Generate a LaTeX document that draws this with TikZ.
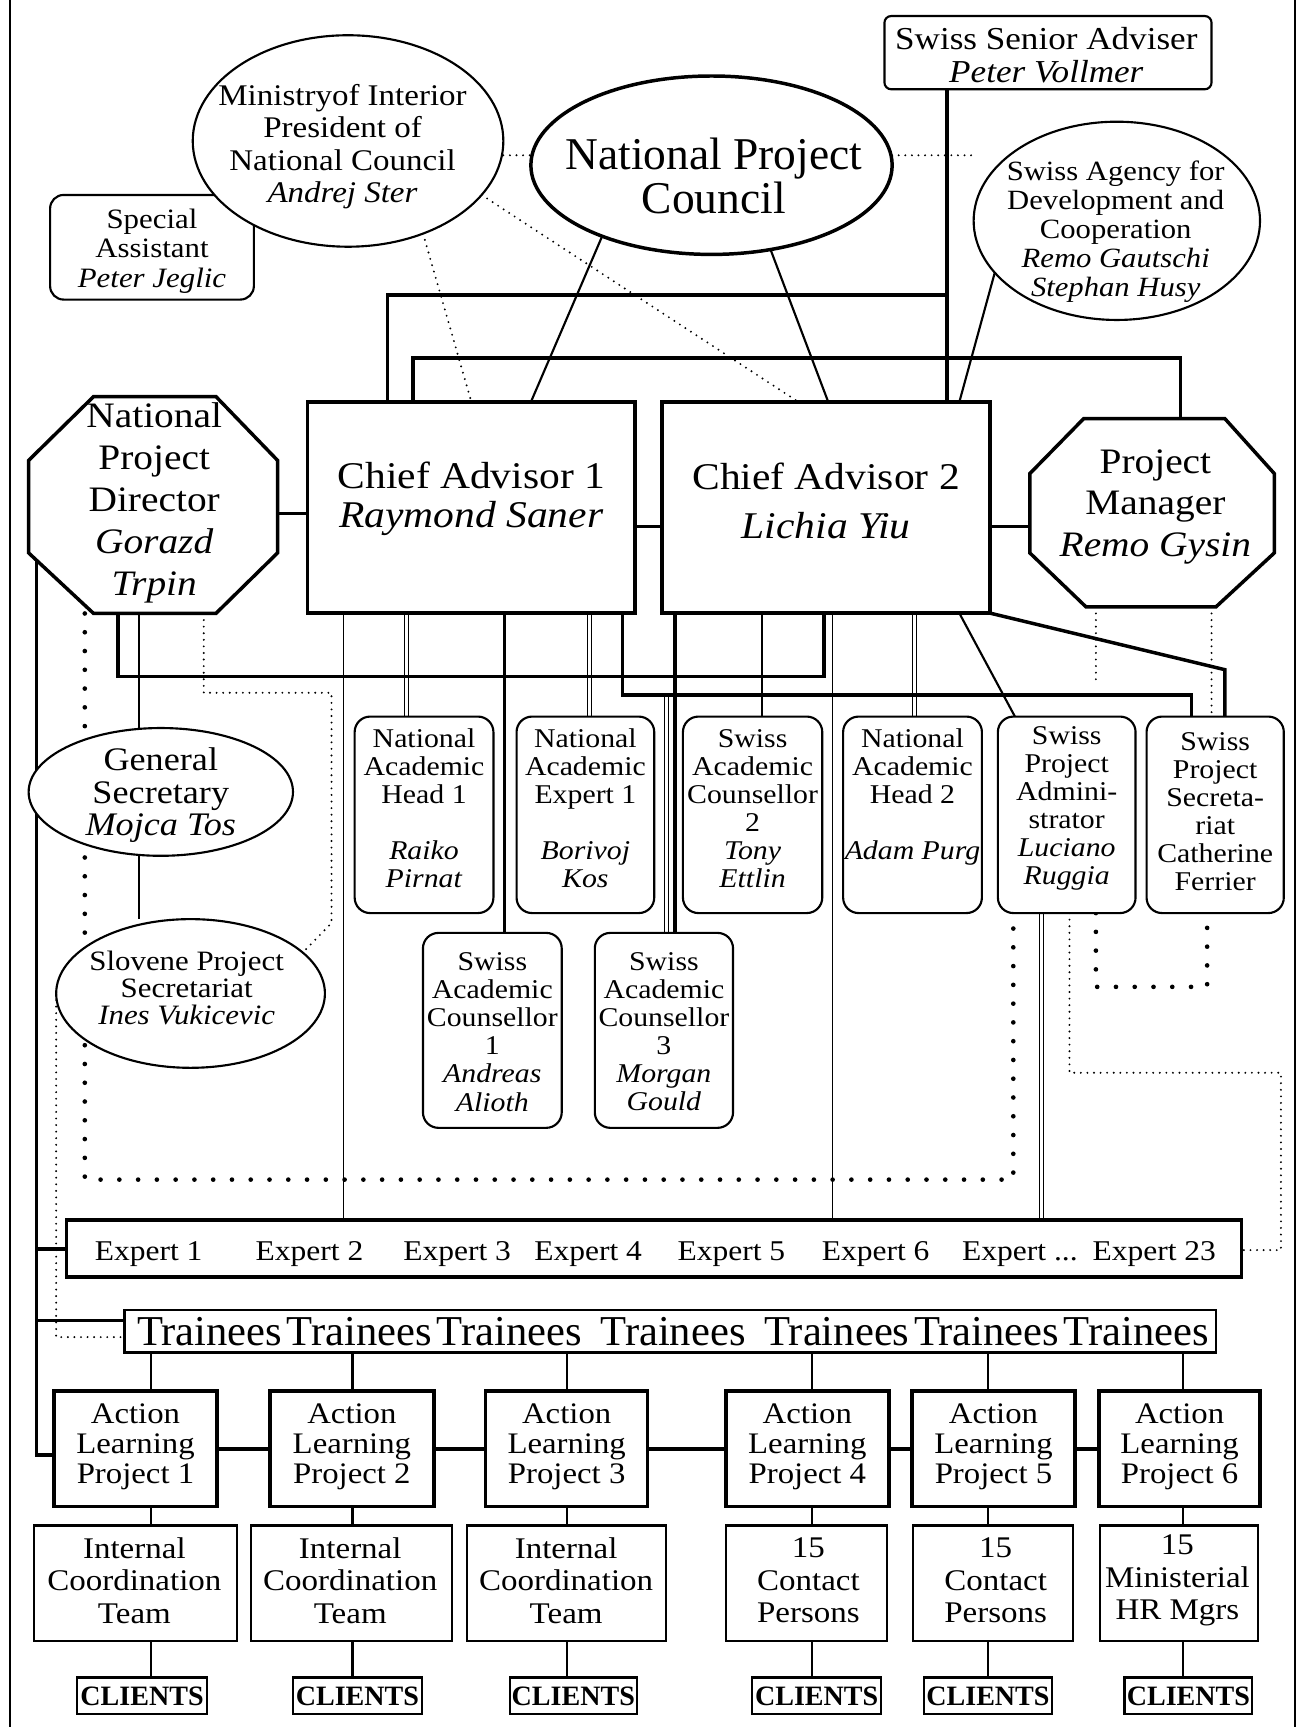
\documentclass[tikz,border=0pt]{standalone}
\usepackage{fontspec}
\setmainfont{Liberation Serif}[FakeStretch=1.1]
\newfontfamily\nfont{Liberation Serif}
\usetikzlibrary{shapes.geometric}
\pgfdeclarelayer{bg}
\pgfsetlayers{bg,main}
\tikzset{
 wh/.style 2 args={minimum width=#1*0.02cm, minimum height=#2*0.02cm, inner sep=0pt, outer sep=0pt},
 thk/.style={line width=1.8pt},
 med/.style={line width=1.1pt},
 thn/.style={line width=0.8pt},
 sbox/.style={draw, med, fill=white, rounded corners=8pt},
 ell/.style={draw, ellipse, med, fill=white},
 txt/.style={inner sep=0pt, align=center},
 small/.style={txt, font=\fontsize{14}{14.5}\selectfont},
 alpt/.style={txt, font=\fontsize{15.4}{15.6}\selectfont},
 teamt/.style={txt, font=\fontsize{15.5}{16.7}\selectfont},
 expt/.style={txt, font=\fontsize{14.8}{16}\selectfont},
 clt/.style={txt, font=\nfont\bfseries\fontsize{14.5}{16}\selectfont},
 bigdot/.style={line width=2.4pt, dash pattern=on 0pt off 9.7pt, line cap=round},
 thindot/.style={line width=1.1pt, dash pattern=on 0pt off 3.4pt, line cap=round},
 dbl/.style={double, double distance=1.5pt, line width=0.6pt},
}
\begin{document}
\begin{tikzpicture}[x=0.02cm,y=-0.02cm]
\useasboundingbox (0,0) rectangle (1183,1568);

% top
\node[draw, med, fill=white, rounded corners=3.5pt, wh={297}{66.5}] (ssa) at (951.5,47.8) {};
\node[txt, font=\fontsize{16.5}{17.2}\selectfont] (ssat) at (950,50) {Swiss Senior Adviser\\\textit{Peter Vollmer}};

\node[sbox, rounded corners=7pt, wh={185}{95}] (sa) at (138,224.5) {};
\node[txt, font=\fontsize{14.5}{15.2}\selectfont] (sat) at (138,228) {Special\\Assistant\\\textit{Peter Jeglic}};

\node[ell, wh={282}{192}] (min) at (316,128) {};
\node[txt, font=\fontsize{15.5}{16.7}\selectfont] (mint) at (311,133) {Ministryof Interior\\President of\\National Council\\\textit{Andrej Ster}};

\node[ell, thk, wh={328}{162}] (npc) at (646,150) {};
\node[txt, font=\nfont\fontsize{23.5}{22.8}\selectfont] (npct) at (648,160) {National Project\\Council};

\node[ell, wh={260}{180}] (sda) at (1014,200.5) {};
\node[txt, font=\fontsize{14.4}{15.1}\selectfont] (sdat) at (1013,210.4) {Swiss Agency for\\Development and\\Cooperation\\\textit{Remo Gautschi}\\\textit{Stephan Husy}};

% chief advisors
\node[draw, thk, fill=white, wh={297.4}{191.7}] (ca1) at (427.7,460.85) {};
\node[txt, font=\fontsize{19.5}{19.9}\selectfont] (ca1t) at (428,453) {Chief Advisor 1\\\textit{Raymond Saner}};
\node[draw, thk, fill=white, wh={298}{191.7}] (ca2) at (750,460.85) {};
\node[txt, font=\fontsize{19.5}{25.6}\selectfont] (ca2t) at (750,455) {Chief Advisor 2\\\textit{Lichia Yiu}};

% octagons
\node[wh={226}{197}] (npd) at (139,458.5) {};
\draw[thk, fill=white] (85,360) -- (196,360) -- (252,418) -- (252,502) -- (196,557) -- (85,557) -- (26,502) -- (26,418) -- cycle;
\node[txt, font=\fontsize{18.5}{21.7}\selectfont] (npdt) at (140,457) {National\\Project\\Director\\\textit{Gorazd}\\\textit{Trpin}};

\node[wh={222}{171}] (pm) at (1046,465.5) {};
\draw[thk, fill=white] (984,380) -- (1112,380) -- (1157,430) -- (1157,502) -- (1104,551) -- (986,551) -- (935,502) -- (935,430) -- cycle;
\node[txt, font=\fontsize{18.5}{21.5}\selectfont] (pmt) at (1049,460) {Project\\Manager\\\textit{Remo Gysin}};

% small rounded boxes
\node[sbox, wh={126}{178.4}] (nah1) at (385,739.8) {};
\node[small] at (385,734) {National\\Academic\\Head 1\\ \mbox{}\\\textit{Raiko}\\\textit{Pirnat}};
\node[sbox, wh={125}{178.4}] (nae1) at (531.5,739.8) {};
\node[small] at (531.5,734) {National\\Academic\\Expert 1\\ \mbox{}\\\textit{Borivoj}\\\textit{Kos}};
\node[sbox, wh={126.5}{178.4}] (sac2) at (683.3,739.8) {};
\node[small] at (683.3,734) {Swiss\\Academic\\Counsellor\\2\\\textit{Tony}\\\textit{Ettlin}};
\node[sbox, wh={126}{178.4}] (nah2) at (828.5,739.8) {};
\node[small] at (828.5,734) {National\\Academic\\Head 2\\ \mbox{}\\\textit{Adam Purg}\\ \mbox{}};
\node[sbox, wh={125}{178.4}] (spa) at (968.5,739.8) {};
\node[small] at (968.5,734) {Swiss\\Project\\Admini-\\strator\\\textit{Luciano}\\\textit{Ruggia}};
\node[sbox, wh={124.6}{178.4}] (spsec) at (1103.3,739.8) {};
\node[small] at (1103.3,737) {Swiss\\Project\\Secreta-\\riat\\Catherine\\Ferrier};
\node[sbox, wh={126}{177}] (sac1) at (447,935.5) {};
\node[small] at (447,937) {Swiss\\Academic\\Counsellor\\1\\\textit{Andreas}\\\textit{Alioth}};
\node[sbox, wh={125.5}{177}] (sac3) at (602.8,935.5) {};
\node[small] at (602.8,937) {Swiss\\Academic\\Counsellor\\3\\\textit{Morgan}\\\textit{Gould}};

% left ellipses
\node[ell, wh={240}{116}] (gs) at (146,719) {};
\node[txt, font=\fontsize{17}{16.8}\selectfont] (gst) at (146,722) {General\\Secretary\\\textit{Mojca Tos}};
\node[ell, wh={244}{135}] (sps) at (173,902) {};
\node[txt, font=\fontsize{14.5}{13.8}\selectfont] (spst) at (169.5,897) {Slovene Project\\Secretariat\\\textit{Ines Vukicevic}};

% experts
\node[draw, thk, fill=white, wh={1066.7}{52}] (experts) at (593.6,1133.5) {};
\node[expt] (e1) at (135,1139) {Expert 1};
\node[expt] (e2) at (281,1139) {Expert 2};
\node[expt] (e3) at (415,1139) {Expert 3};
\node[expt] (e4) at (534,1139) {Expert 4};
\node[expt] (e5) at (664,1139) {Expert 5};
\node[expt] (e6) at (795,1139) {Expert 6};
\node[expt] (e7) at (926,1139) {Expert ...};
\node[expt] (e8) at (1048,1139) {Expert 23};

% trainees
\node[draw, med, fill=white, wh={991}{39}] (trainees) at (608.5,1208.5) {};
\node[txt, font=\nfont\fontsize{22}{24}\selectfont] (trt) at (611,1209) {Trainees\hspace{2.4pt}Trainees\hspace{2.4pt}Trainees\hspace{9.7pt}Trainees\hspace{9.7pt}Trainees\hspace{2.4pt}Trainees\hspace{2.4pt}Trainees};

% action learning projects
\node[draw, thk, fill=white, wh={148}{105}] (alp1) at (123,1315.5) {};
\node[alpt] at (123,1313.5) {Action\\Learning\\Project 1};
\node[draw, thk, fill=white, wh={149}{105}] (alp2) at (319.5,1315.5) {};
\node[alpt] at (319.5,1313.5) {Action\\Learning\\Project 2};
\node[draw, thk, fill=white, wh={147}{105}] (alp3) at (514.5,1315.5) {};
\node[alpt] at (514.5,1313.5) {Action\\Learning\\Project 3};
\node[draw, thk, fill=white, wh={148}{105}] (alp4) at (733,1315.5) {};
\node[alpt] at (733,1313.5) {Action\\Learning\\Project 4};
\node[draw, thk, fill=white, wh={148}{105}] (alp5) at (902,1315.5) {};
\node[alpt] at (902,1313.5) {Action\\Learning\\Project 5};
\node[draw, thk, fill=white, wh={146}{105}] (alp6) at (1071,1315.5) {};
\node[alpt] at (1071,1313.5) {Action\\Learning\\Project 6};

% teams
\node[draw, med, fill=white, wh={184}{105}] (t1) at (123,1437.5) {};
\node[teamt] at (122,1435) {Internal\\Coordination\\Team};
\node[draw, med, fill=white, wh={182}{105}] (t2) at (319,1437.5) {};
\node[teamt] at (318,1435) {Internal\\Coordination\\Team};
\node[draw, med, fill=white, wh={181}{105}] (t3) at (514.5,1437.5) {};
\node[teamt] at (514,1435) {Internal\\Coordination\\Team};
\node[draw, med, fill=white, wh={146}{105}] (t4) at (732,1437.5) {};
\node[teamt] at (734,1435) {15\\Contact\\Persons};
\node[draw, med, fill=white, wh={145}{105}] (t5) at (901.5,1437.5) {};
\node[teamt] at (904,1435) {15\\Contact\\Persons};
\node[draw, med, fill=white, wh={143}{105}] (t6) at (1070.5,1437.5) {};
\node[teamt] at (1069,1435) {15\\Ministerial\\HR Mgrs};

% clients
\node[draw, med, fill=white, wh={118}{33}] (c1) at (129,1539.5) {};
\node[clt] at (129,1540.5) {CLIENTS};
\node[draw, med, fill=white, wh={117}{33}] (c2) at (324.5,1539.5) {};
\node[clt] at (324.5,1540.5) {CLIENTS};
\node[draw, med, fill=white, wh={115}{33}] (c3) at (520.5,1539.5) {};
\node[clt] at (520.5,1540.5) {CLIENTS};
\node[draw, med, fill=white, wh={117}{33}] (c4) at (741.5,1539.5) {};
\node[clt] at (741.5,1540.5) {CLIENTS};
\node[draw, med, fill=white, wh={116}{33}] (c5) at (897,1539.5) {};
\node[clt] at (897,1540.5) {CLIENTS};
\node[draw, med, fill=white, wh={116}{33}] (c6) at (1079,1539.5) {};
\node[clt] at (1079,1540.5) {CLIENTS};

\coordinate (bdc) at (77,1071);
\coordinate (pmend) at (995,622);
\coordinate (jn) at (605,631);

\begin{pgfonlayer}{bg}
% border
\draw[line width=1pt] (9,0) -- (9,1568);
\draw[line width=1pt] (1176,0) -- (1176,1568);
% double lines first
\draw[dbl] (ca1.south -| 369,0) -- (nah1.north -| 369,0);
\draw[dbl] (ca1.south -| 535,0) -- (nae1.north -| 535,0);
\draw[dbl] (jn) -- (sac3.north -| 605,0);
\draw[dbl] (ca2.south -| 830,0) -- (nah2.north -| 830,0);
\draw[dbl] (spa.south -| 945.5,0) -- (experts.north -| 945.5,0);
% top structure
\draw[thk] (ssa.south -| 860,0) -- (ca2.north -| 860,0);
\draw[thk] (ca1.north -| 352,0) -- (352,268) -- (860,268);
\draw[thk] (ca1.north -| 375,0) -- (375,325) -- (1072,325) -- (pm.north -| 1072,0);
\draw[med] (npc.213) -- (ca1.north -| 482,0);
\draw[med] (npc.-55) -- (ca2.north -| 752,0);
\draw[med] (sda.203) -- (ca2.north -| 871,0);
\draw[thindot] (min.east |- 0,141) -- (npc.west |- 0,141);
\draw[thindot] (npc.east |- 0,141) -- (sda.west |- 0,141);
\draw[thindot] (min.-22) -- (ca2.north -| 725,0);
\draw[thindot] (min.-51) -- (ca1.north -| 428,0);
% middle row
\draw[thk] (npd.east |- 0,466) -- (ca1.west |- 0,466);
\draw[thk] (ca1.east |- 0,478) -- (ca2.west |- 0,478);
\draw[thk] (ca2.east |- 0,478) -- (pm.west |- 0,478);
% below CA1
\draw[thn] (ca1.south -| 312,0) -- (experts.north -| 312,0);
\draw[med] (ca1.south -| 458,0) -- (sac1.north -| 458,0);
\draw[thk] (ca1.south -| 565,0) -- (565,631) -- (1082,631) -- (spsec.north -| 1082,0);
% below CA2
\draw[thk] (ca2.south -| 613,0) -- (sac3.north -| 613,0);
\draw[med] (ca2.south -| 692,0) -- (sac2.north -| 692,0);
\draw[thn] (ca2.south -| 756,0) -- (experts.north -| 756,0);
\draw[med] (ca2.south -| 871,0) -- (spa.north -| 921.5,0);
\draw[thk] (ca2.south east) -- (1112,608) -- (spsec.north -| 1112,0);
% NPD lines
\draw[thk] (npd.south -| 107,0) -- (107,614) -- (748,614) -- (ca2.south -| 748,0);
\draw[med] (npd.south -| 126,0) -- (gs.north -| 126,0);
\draw[med] (gs.south -| 126,0) -- (sps.north -| 126,0);
\draw[thindot] (npd.south -| 185,0) -- (185,629) -- (301,629) -- (301,838) -- (sps.20);
\draw[bigdot] (npd.south -| 77,0) -- (bdc) -| (spa.south -| 920,0);
\draw[thk] (npd.west -| 33,0) -- (33,1321) -- (alp1.west |- 0,1321);
\draw[thk] (33,1134) -- (experts.west |- 0,1134);
\draw[thk] (33,1199) -- (trainees.west |- 0,1199);
\draw[thindot] (sps.west) |- (trainees.west |- 0,1214);
% PM and SPA dotted
\draw[thindot] (pm.south -| 995,0) -- (pmend);
\draw[thindot] (pm.south -| 1100,0) -- (spsec.north -| 1100,0);
\draw[thindot] (spa.south -| 971,0) -- (971,974) -- (1163,974) -- (1163,1135) -- (experts.east |- 0,1135);
\draw[bigdot] (spa.south -| 995,0) -- (995,896) -- (1096,896) -- (spsec.south -| 1096,0);
% bottom
\foreach \i/\X in {1/137,2/320,3/515,4/737,5/897,6/1074}{
 \draw[med] (trainees.south -| \X,0) -- (alp\i.north -| \X,0);
 \draw[med] (alp\i.south -| \X,0) -- (t\i.north -| \X,0);
 \draw[med] (t\i.south -| \X,0) -- (c\i.north -| \X,0);
}
\draw[thk] (alp1.east) -- (alp2.west);
\draw[thk] (alp2.east) -- (alp3.west);
\draw[thk] (alp3.east) -- (alp4.west);
\draw[thk] (alp4.east) -- (alp5.west);
\draw[thk] (alp5.east) -- (alp6.west);
\end{pgfonlayer}
\end{tikzpicture}
\end{document}
